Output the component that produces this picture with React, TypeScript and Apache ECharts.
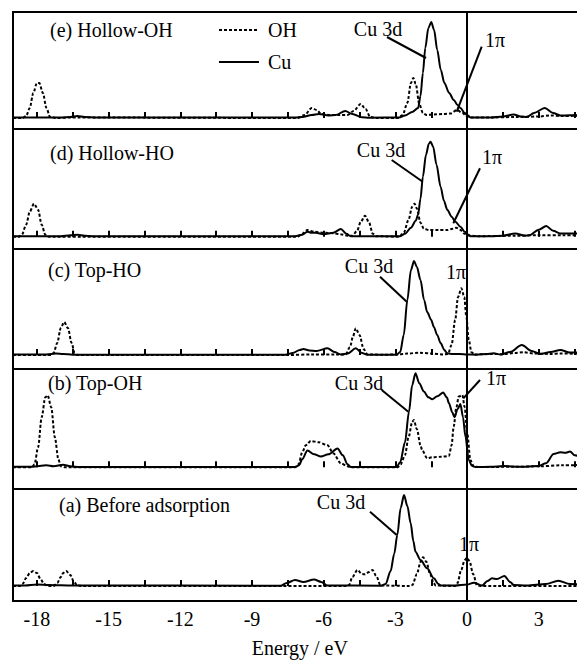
import React, { useEffect, useRef } from "react";
import * as echarts from "echarts";

// ---------- data ----------
const panelNames = ["(e) Hollow-OH", "(d) Hollow-HO", "(c) Top-HO", "(b) Top-OH", "(a) Before adsorption"];
const xTickValues = [-18, -16.5, -15, -13.5, -12, -10.5, -9, -7.5, -6, -4.5, -3, -1.5, 0, 1.5, 3, 4.5];
const xLabelValues = [-18, -15, -12, -9, -6, -3, 0, 3];

// (e) Hollow-OH
const cuE = [[-19,0.5],[-18.5,0.5],[-17,0.5],[-16.6,1],[-16.3,2],[-16,1],[-15.5,0.5],[-7.2,0.5],[-6.9,1],[-6.5,3],[-6.2,4],[-5.8,2.5],[-5.5,3],[-5.1,7],[-4.8,4],[-4.4,0.8],[-4.1,0.3],[-2.85,0.5],[-2.6,2.5],[-2.3,6],[-2.05,10],[-1.95,22],[-1.85,45],[-1.75,70],[-1.62,90],[-1.5,96],[-1.38,88],[-1.25,68],[-1.1,48],[-0.95,35],[-0.75,25],[-0.56,18],[-0.4,13],[-0.28,10],[-0.1,5],[0,3],[0.15,0.5],[0.5,0.5],[1,0.5],[1.5,1.5],[1.95,3.5],[2.25,1.5],[2.5,1],[2.8,5],[3.25,10],[3.6,5],[3.9,2.5],[4.3,2.7],[5,3]];
const ohE = [[-19,0],[-18.6,0],[-18.45,2],[-18.3,10],[-18.15,25],[-18.0,35],[-17.9,35],[-17.75,25],[-17.6,10],[-17.45,1],[-17.2,0],[-16.5,0.5],[-7.1,0],[-6.8,3],[-6.5,10],[-6.3,8],[-6.1,4],[-5.7,3],[-5.3,3],[-5.0,3],[-4.75,7],[-4.45,14],[-4.25,9],[-4.05,1],[-3.8,0],[-2.9,0],[-2.7,3],[-2.5,15],[-2.35,35],[-2.25,40],[-2.15,34],[-2.0,14],[-1.85,5],[-1.7,3],[-1.4,3.5],[-1.0,4],[-0.7,4.5],[-0.42,8],[-0.2,5],[0,1.5],[0.2,0.5],[1,0.5],[2,1],[3,1.5],[3.5,2.5],[4,2],[5,2.5]];

// (d) Hollow-HO
const cuD = [[-19,0.5],[-17,0.5],[-16.6,1.5],[-16.3,2],[-16,1],[-15.6,0.5],[-7.2,0.5],[-6.9,2],[-6.68,5],[-6.5,4],[-6.33,4],[-6.0,2.5],[-5.6,4],[-5.28,7.7],[-5.05,3],[-4.87,0.5],[-2.8,0.5],[-2.6,3],[-2.35,9],[-2.15,16],[-2.05,22],[-1.95,38],[-1.85,60],[-1.72,82],[-1.6,93],[-1.53,95],[-1.42,90],[-1.28,72],[-1.11,50],[-0.97,36],[-0.83,27],[-0.65,20],[-0.49,15],[-0.28,10],[-0.1,5],[0.05,2],[0.15,0.5],[1,0.5],[1.5,1],[2.02,3.3],[2.4,1],[2.6,1.5],[3.0,7],[3.31,10.7],[3.6,6],[3.9,3.3],[5,3.3]];
const ohD = [[-19,0],[-18.75,0],[-18.63,2],[-18.45,12],[-18.3,25],[-18.12,33],[-17.95,27],[-17.8,12],[-17.65,2],[-17.5,0],[-7.1,0],[-6.9,3],[-6.68,6.7],[-6.4,5],[-6.0,4],[-5.6,3.5],[-5.3,2.5],[-5.0,1],[-4.8,1],[-4.6,6],[-4.45,15],[-4.27,21],[-4.1,14],[-3.95,3],[-3.8,0.5],[-2.85,0],[-2.65,4],[-2.45,17],[-2.3,30],[-2.2,33],[-2.1,28],[-1.95,14],[-1.81,8],[-1.6,6.7],[-1.2,6.7],[-0.83,6.7],[-0.6,8],[-0.45,9],[-0.3,7],[-0.1,3],[0.1,1],[0.5,0.5],[2,1],[3,1.5],[4,1.5],[5,1.5]];

// (c) Top-HO
const cuC = [[-19,0.5],[-17.6,0.5],[-17.2,1.5],[-16.9,1],[-16.5,0.3],[-7.6,0.3],[-7.3,2],[-7.0,5],[-6.85,6],[-6.6,4.5],[-6.3,4],[-5.84,6.7],[-5.55,3],[-5.28,0.5],[-5.0,1.5],[-4.66,6.7],[-4.4,2],[-4.17,0.3],[-2.95,0.3],[-2.8,3],[-2.65,20],[-2.5,55],[-2.35,85],[-2.22,94],[-2.1,88],[-1.95,75],[-1.8,55],[-1.67,43],[-1.5,35],[-1.39,28],[-1.25,20],[-1.11,12],[-0.95,5],[-0.83,1.7],[-0.6,1],[-0.3,1],[0,0.5],[0.4,0.3],[0.8,1],[1.11,1.7],[1.4,0.5],[1.8,3],[2.29,10],[2.7,4],[3.06,1],[3.5,3],[3.9,5],[4.3,2.5],[5,2.3]];
const ohC = [[-19,0],[-17.4,0],[-17.3,2],[-17.15,12],[-17.0,27],[-16.86,33],[-16.7,27],[-16.55,12],[-16.42,2],[-16.3,0],[-7.5,0],[-6.5,0.5],[-5.5,0.5],[-5.08,0.5],[-4.9,8],[-4.78,18],[-4.66,26.7],[-4.5,20],[-4.33,6],[-4.17,0.5],[-3.5,0.3],[-2.9,0.5],[-2.5,1.5],[-2.0,2.3],[-1.5,1.5],[-1.0,0.5],[-0.8,1],[-0.65,10],[-0.5,35],[-0.38,58],[-0.24,66.7],[-0.12,58],[-0.03,38],[0.07,15],[0.18,3],[0.3,0.5],[1,1],[1.5,0.8],[2.0,2],[2.36,2.7],[2.8,1.5],[3.5,1],[3.9,1.5],[5,1]];

// (b) Top-OH
const cuB = [[-19,0.5],[-18.2,0.5],[-17.6,2],[-17.3,1],[-16.9,2.5],[-16.6,1],[-16.2,0.3],[-7.2,0.3],[-7.03,2],[-6.9,8],[-6.68,16.7],[-6.4,13],[-6.12,10.7],[-5.8,13],[-5.42,18.7],[-5.2,12],[-5.0,3],[-4.87,0.3],[-2.95,0.3],[-2.8,5],[-2.6,25],[-2.43,55.7],[-2.3,82],[-2.16,94],[-2.0,84],[-1.81,75.7],[-1.62,70],[-1.46,68],[-1.25,71],[-1.0,74.7],[-0.85,70],[-0.76,64],[-0.62,55],[-0.53,50],[-0.4,58],[-0.28,63.3],[-0.17,50],[-0.07,30.7],[0.07,7.3],[0.2,1.5],[0.35,0.3],[1,0.5],[1.53,1.3],[2.2,0.5],[2.99,1.3],[3.3,4],[3.62,13.3],[3.9,15],[4.1,14.5],[4.31,15.7],[4.5,12],[5,8]];
const ohB = [[-19,0],[-18.2,0],[-18.1,3],[-17.95,20],[-17.8,50],[-17.65,70],[-17.55,72],[-17.4,60],[-17.25,30],[-17.1,8],[-17.0,1],[-16.8,0],[-7.2,0],[-7.05,3],[-6.9,15],[-6.75,22],[-6.54,26.3],[-6.2,25],[-5.84,22],[-5.6,14],[-5.28,4],[-5.0,1],[-4.87,0],[-2.9,0],[-2.78,3],[-2.6,12],[-2.45,30],[-2.3,45],[-2.23,47.3],[-2.1,38],[-1.95,22],[-1.88,17],[-1.67,9],[-1.46,10],[-1.1,10.5],[-0.76,11.3],[-0.65,22],[-0.56,40.7],[-0.45,60],[-0.35,70.7],[-0.2,72.3],[-0.1,60],[0.0,35],[0.14,7],[0.28,1],[0.5,0.3],[2,0.5],[3,1],[4,2],[5,2.5]];

// (a) Before adsorption
const cuA = [[-19,0.5],[-18.5,0.5],[-18.0,1.5],[-17.5,1],[-16.5,0.5],[-7.8,0.3],[-7.55,3],[-7.2,6],[-6.85,4],[-6.4,6.5],[-6.1,4],[-5.84,0.5],[-3.6,0.3],[-3.41,2],[-3.2,15],[-3.05,32],[-2.92,51],[-2.78,78],[-2.64,91],[-2.5,80],[-2.36,62.7],[-2.25,45],[-2.16,34.3],[-1.95,26],[-1.67,17.7],[-1.39,7.7],[-1.2,2],[-1.11,0.5],[-0.5,0.5],[0,1.5],[0.28,3.3],[0.63,0.5],[0.85,5],[1.04,7.7],[1.25,7],[1.56,10],[1.8,4],[1.95,1],[2.5,0.5],[3.3,2],[3.82,5.3],[4.3,2],[5,1]];
const ohA = [[-19,0],[-18.7,0],[-18.6,2],[-18.45,8],[-18.3,13],[-18.15,15],[-18.0,13],[-17.85,7],[-17.7,2],[-17.55,0],[-17.3,0],[-17.15,3],[-17.0,9],[-16.9,13],[-16.78,15],[-16.6,11],[-16.45,4],[-16.3,0.5],[-16.1,0],[-5.0,0],[-4.94,1],[-4.8,9],[-4.59,16],[-4.4,12],[-4.27,11.7],[-4.1,14],[-3.96,16],[-3.8,10],[-3.62,0.5],[-2.4,0],[-2.29,1],[-2.1,12],[-1.95,24],[-1.84,28.7],[-1.7,24],[-1.55,12],[-1.4,3],[-1.32,0.5],[-0.5,0],[-0.4,3],[-0.25,16],[-0.1,26],[0.0,28.3],[0.1,25],[0.25,12],[0.42,0.5],[0.6,0],[5,0]];

const cuSeries = [cuE, cuD, cuC, cuB, cuA];
const ohSeries = [ohE, ohD, ohC, ohB, ohA];

// ---------- layout ----------
const FONT = "'Liberation Serif', 'Times New Roman', serif";
const FS = 20;
const panelTops = [12, 129, 249, 369, 489];
const panelHeights = [117, 120, 120, 120, 112];
const yRanges = [[-11, 106], [-12.3, 107.7], [-14, 106], [-21.7, 98.3], [-15, 97]];
const GRID_LEFT = 13;
const GRID_WIDTH = 573.6;

const panelLabelPos = [[50, 30], [50, 153], [48, 270], [48, 383], [59, 505]];
const cu3dPos = [[378, 29], [381, 150], [369, 266], [359, 383], [341, 502]];
const piPos = [[495, 40], [492, 157], [456, 272], [496, 378], [469, 544]];
const cu3dLines = [[387, 37, 426, 58], [391.7, 160, 422.7, 181.7], [380, 276.7, 406.7, 301.7], [381.7, 390, 408.3, 411.7], [370, 511.7, 396.7, 535]];
const piLines = [[481.7, 46.7, 456.7, 111.7], [480, 168.3, 453.3, 223.3], null, [480, 380, 463.3, 398.3], null];

function txt(text: string, x: number, y: number, align: string) {
  return {
    type: "text",
    x,
    y,
    z: 100,
    style: {
      text,
      fill: "#000",
      fontSize: FS,
      fontFamily: FONT,
      align,
      verticalAlign: "middle",
      textAlign: align,
      textVerticalAlign: "middle",
    },
  };
}

function seg(p: number[]) {
  return {
    type: "line",
    z: 100,
    shape: { x1: p[0], y1: p[1], x2: p[2], y2: p[3] },
    style: { stroke: "#000", lineWidth: 2 },
  };
}

export default function App() {
  const ref = useRef<HTMLDivElement>(null);
  useEffect(() => {
    if (!ref.current) return;
    const chart = echarts.init(ref.current, undefined, { renderer: "svg" });
    const grids: any[] = [];
    const xAxes: any[] = [];
    const yAxes: any[] = [];
    const series: any[] = [];
    const graphics: any[] = [];
    for (let i = 0; i < 5; i++) {
      const last = i === 4;
      grids.push({
        left: GRID_LEFT,
        top: panelTops[i],
        width: GRID_WIDTH,
        height: panelHeights[i],
        show: true,
        borderColor: "#000",
        borderWidth: 2,
        backgroundColor: "transparent",
      });
      xAxes.push({
        type: "value",
        gridIndex: i,
        min: -19,
        max: 5,
        axisLine: { show: false },
        splitLine: { show: false },
        axisTick: {
          show: true,
          inside: true,
          length: 6,
          lineStyle: { color: "#000", width: 2 },
          customValues: xTickValues,
        },
        axisLabel: {
          show: last,
          customValues: xLabelValues,
          color: "#000",
          fontSize: FS,
          fontFamily: FONT,
          margin: 8,
        },
        name: last ? "Energy / eV" : "",
        nameLocation: "middle",
        nameGap: 37,
        nameTextStyle: { color: "#000", fontSize: FS, fontFamily: FONT },
      });
      yAxes.push({
        type: "value",
        gridIndex: i,
        min: yRanges[i][0],
        max: yRanges[i][1],
        show: false,
        splitLine: { show: false },
      });
      series.push({
        name: "OH",
        type: "line",
        xAxisIndex: i,
        yAxisIndex: i,
        data: ohSeries[i],
        symbol: "none",
        smooth: 0.3,
        smoothMonotone: "x",
        lineStyle: { color: "#000", width: 2, type: [3, 2] },
        itemStyle: { color: "#000" },
        z: 3,
      });
      series.push({
        name: "Cu",
        type: "line",
        xAxisIndex: i,
        yAxisIndex: i,
        data: cuSeries[i],
        symbol: "none",
        smooth: 0.3,
        smoothMonotone: "x",
        lineStyle: { color: "#000", width: 2, type: "solid" },
        itemStyle: { color: "#000" },
        z: 4,
        markLine: {
          silent: true,
          symbol: ["none", "none"],
          label: { show: false },
          lineStyle: { color: "#000", width: 2, type: "solid" },
          data: [{ xAxis: 0 }],
        },
      });
      graphics.push(txt(panelNames[i], panelLabelPos[i][0], panelLabelPos[i][1], "left"));
      graphics.push(txt("Cu 3d", cu3dPos[i][0], cu3dPos[i][1], "center"));
      graphics.push(txt("1\u03c0", piPos[i][0], piPos[i][1], "center"));
      graphics.push(seg(cu3dLines[i]));
      const pl = piLines[i];
      if (pl) graphics.push(seg(pl));
    }
    chart.setOption({
      animation: false,
      backgroundColor: "#fff",
      grid: grids,
      xAxis: xAxes,
      yAxis: yAxes,
      series,
      legend: {
        data: ["OH", "Cu"],
        orient: "vertical",
        left: 213,
        top: 15,
        itemWidth: 40,
        itemHeight: 16,
        itemGap: 12,
        selectedMode: false,
        itemStyle: { color: "rgba(0,0,0,0)", borderColor: "rgba(0,0,0,0)", borderWidth: 0, opacity: 0 },
        textStyle: { color: "#000", fontSize: FS, fontFamily: FONT, padding: [0, 0, 0, 4] },
      },
      graphic: graphics,
    });
    return () => chart.dispose();
  }, []);
  return (
    <div style={{ position: "fixed", left: 0, top: 0, width: 577, height: 660, overflow: "hidden", background: "#fff" }}>
      <div ref={ref} style={{ width: 600, height: 660 }} />
    </div>
  );
}
